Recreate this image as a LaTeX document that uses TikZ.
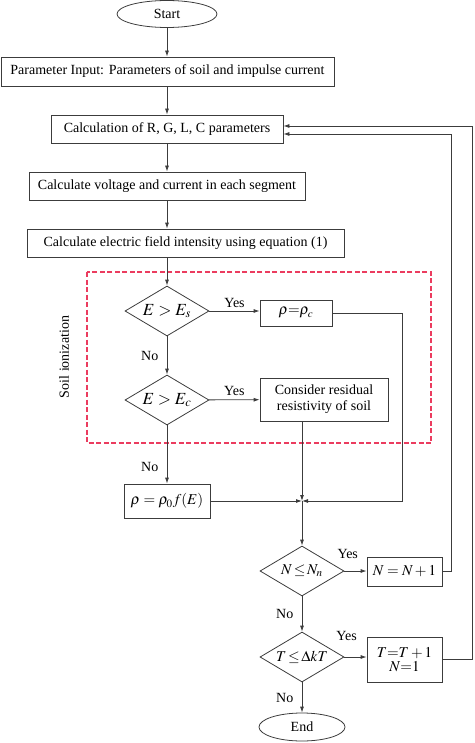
\documentclass[tikz,border=0pt]{standalone}
\usepackage{mathptmx}
\usepackage{fontspec}
\setmainfont{Liberation Serif}
\usetikzlibrary{shapes.geometric,arrows.meta}
\definecolor{trait}{RGB}{60,60,60}
\definecolor{rougepointille}{RGB}{235,60,95}
\tikzset{
  boite/.style={draw=trait, rectangle, inner sep=2pt, align=center},
  test/.style={draw=trait, diamond, aspect=1.7, inner sep=0pt, minimum width=84pt, minimum height=50pt},
  borne/.style={draw=trait, ellipse, inner sep=0pt},
  fleche/.style={draw=trait, -{Latex[length=6pt,width=4pt]}},
  grandmath/.style={font=\fontsize{17}{19}\selectfont},
  moyenmath/.style={font=\fontsize{15}{17}\selectfont},
}

\begin{document}
\begin{tikzpicture}[x=1pt, y=-1pt, line width=0.8pt, font=\fontsize{14}{16}\selectfont]
  \useasboundingbox (0,0) rectangle (474,743);

  % Début
  \node[borne, minimum width=100pt, minimum height=27pt] (debut) at (167,14) {Start};

  % Calculs
  \node[boite, minimum width=333pt, minimum height=29pt] (entree) at (167.5,71.5) {Parameter Input: Parameters of soil and impulse current};
  \node[boite, minimum width=232pt, minimum height=28pt] (rglc) at (167,129) {Calculation of R, G, L, C parameters};
  \node[boite, minimum width=276pt, minimum height=28pt] (tension) at (167,186) {Calculate voltage and current in each segment};
  \node[boite, minimum width=317pt, minimum height=28pt] (champ) at (185.5,243) {Calculate electric field intensity using equation (1)};

  \draw[fleche] (debut) -- (debut |- entree.north);
  \draw[fleche] (entree.south -| rglc) -- (rglc);
  \draw[fleche] (rglc) -- (tension);
  \draw[fleche] (tension) -- (tension |- champ.north);

  % Ionisation du sol
  \draw[rougepointille, dash pattern=on 5pt off 2.5pt, line width=1.2pt] (87,272) rectangle (431,443);
  \node[rotate=90] (ionis) at (64,357) {Soil ionization};

  \node[test, grandmath] (des) at (167,311) {$E>E_s$};
  \node[boite, moyenmath, minimum width=72pt, minimum height=26pt] (rhoc) at (296,313) {$\rho{=}\rho_c$};
  \node[test, grandmath] (dec) at (167,400) {$E>E_c$};
  \node[boite, minimum width=128pt, minimum height=43pt] (resid) at (324,399.5) {Consider residual\\resistivity of soil};
  \node[boite, moyenmath, minimum width=86pt, minimum height=34pt] (rho0) at (167,501) {$\rho=\rho_0 f(E)$};
  \coordinate (J) at (302,501);
  \coordinate (coinc) at (402,501);

  \draw[fleche] (champ.south -| des) -- (des);
  \draw[fleche] (des) -- node[above] {Yes} (des.east -| rhoc.west);
  \draw[fleche] (des) -- node[left=5pt] {No} (dec);
  \draw[fleche] (dec) -- node[above] {Yes} (resid);
  \draw[fleche] (dec) -- node[left=5pt, pos=0.72] {No} (rho0);

  % Jonction
  \draw[fleche] (rhoc.east) -| (coinc) -- (J);
  \draw[fleche] (resid.south -| J) -- (J);
  \draw[fleche] (rho0) -- (J);

  % Boucles
  \node[test, moyenmath] (dnn) at (302,571) {$N\!\le\! N_n$};
  \node[boite, moyenmath, minimum width=75pt, minimum height=29pt] (incn) at (404.5,571.5) {$N=N+1$};
  \node[test, moyenmath] (dt) at (302,657) {$T\!\le\!\Delta kT$};
  \node[boite, moyenmath, minimum width=75pt, minimum height=45pt, inner sep=0pt] (inct) at (404.5,659.5) {$T{=}T+1$\\[-3pt]$N{=}1$};
  \node[borne, minimum width=86pt, minimum height=28pt] (fin) at (302,727) {End};

  \draw[fleche] (J) -- (dnn);
  \draw[fleche] (dnn) -- node[above=9pt, pos=0.15] {Yes} (dnn.east -| incn.west);
  \draw[fleche] (dnn) -- node[left=5pt] {No} (dt);
  \draw[fleche] (dt) -- node[above=13pt, pos=0.1] {Yes} (dt.east -| inct.west);
  \draw[fleche] (dt) -- node[left=5pt] {No} (fin);

  % Retours
  \coordinate (retour1) at (451,134);
  \coordinate (retour2) at (472.5,126);
  \draw[fleche] (incn.east) -| (retour1) -- (retour1 -| rglc.east);
  \draw[fleche] (inct.east) -| (retour2) -- (retour2 -| rglc.east);
\end{tikzpicture}
\end{document}
